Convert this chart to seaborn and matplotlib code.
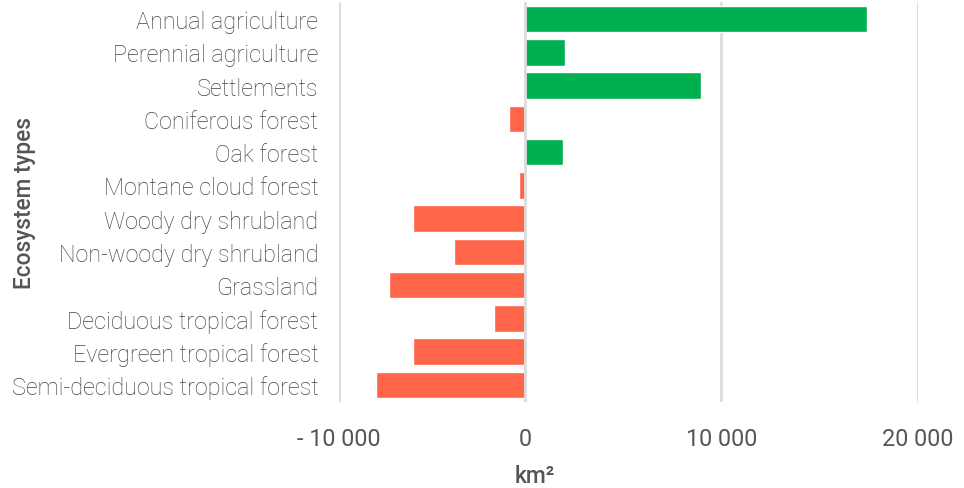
import pandas as pd
import matplotlib.pyplot as plt
import seaborn as sns

# Data
ecosystems = [
    "Annual agriculture",
    "Perennial agriculture",
    "Settlements",
    "Coniferous forest",
    "Oak forest",
    "Montane cloud forest",
    "Woody dry shrubland",
    "Non-woody dry shrubland",
    "Grassland",
    "Deciduous tropical forest",
    "Evergreen tropical forest",
    "Semi-deciduous tropical forest",
]
change_km2 = [17410, 2040, 8980, -810, 1940, -320, -5710, -3660, -6930, -1580, -5710, -7600]
tick_values = [-9500, 0, 10000, 20000]
tick_labels = ["- 10 000", "0", "10 000", "20 000"]

df = pd.DataFrame({"Ecosystem": ecosystems, "Change": change_km2})
df["Sign"] = ["gain" if v >= 0 else "loss" for v in df["Change"]]

sns.set_style("white")
plt.rcParams["font.family"] = ["Roboto", "DejaVu Sans"]

fig = plt.figure(figsize=(9.64, 4.89), dpi=100)
ax = fig.add_axes([0.3517, 0.1767, 0.6001, 0.8163])

sns.barplot(
    data=df,
    y="Ecosystem",
    x="Change",
    hue="Sign",
    palette={"gain": "#00B050", "loss": "#FF6649"},
    saturation=1,
    dodge=False,
    width=0.8,
    legend=False,
    ax=ax,
    zorder=3,
)

ax.set_xlim(-9500, 20000)
ax.set_xticks(tick_values)
ax.set_xticklabels(tick_labels)
ax.xaxis.grid(True, color="#dddddd", linewidth=2, zorder=0)
ax.axvline(0, color="#dddddd", linewidth=2, zorder=4)
for s in ax.spines.values():
    s.set_visible(False)

ax.tick_params(axis="y", length=0, pad=15, labelsize=16.8, labelcolor="#444444")
ax.tick_params(axis="x", length=0, pad=18, labelsize=16.8, labelcolor="#555555")
for lbl in ax.get_yticklabels():
    lbl.set_fontweight("light")
for lbl in ax.get_xticklabels():
    lbl.set_fontweight("normal")

ax.set_xlabel("km²", fontsize=16.5, fontweight="medium", color="#555555")
ax.xaxis.set_label_coords((535 - 339) / 578.5, -(477 - 402.6) / 399.2)
ax.xaxis.label.set_va("center")
ax.set_ylabel("Ecosystem types", fontsize=16.3, fontweight="medium", color="#555555")
ax.yaxis.set_label_coords((24 - 339) / 578.5, 0.5)
ax.yaxis.label.set_va("center")

plt.savefig("out.png", dpi=100)
plt.close()
